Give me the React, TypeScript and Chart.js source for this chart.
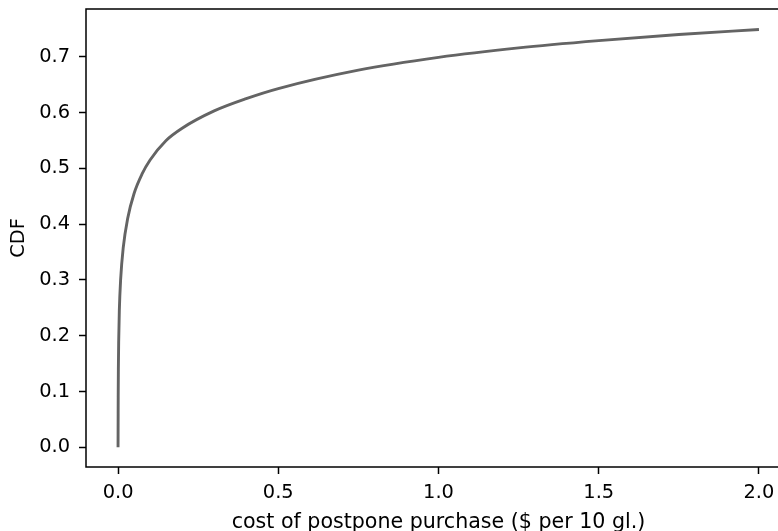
import React, { useEffect, useRef } from "react";
import { Chart, registerables } from "chart.js";

Chart.register(...registerables);

const costX = [0, 0.00025, 0.0005, 0.001, 0.002, 0.004, 0.008, 0.016, 0.03, 0.05, 0.075, 0.1, 0.15, 0.2, 0.3, 0.4, 0.5, 0.75, 1.0, 1.25, 1.5, 1.75, 2.0];
const cdfY = [0, 0.045, 0.09, 0.14, 0.19, 0.245, 0.3, 0.357, 0.41, 0.455, 0.49, 0.515, 0.55, 0.572, 0.603, 0.625, 0.643, 0.676, 0.699, 0.716, 0.729, 0.74, 0.749];
const xTicks = [0, 0.5, 1.0, 1.5, 2.0];
const yTicks = [0, 0.1, 0.2, 0.3, 0.4, 0.5, 0.6, 0.7];
const xTitle = "cost of postpone purchase ($ per 10 gl.)";
const yTitle = "CDF";

const CW = 810;
const CH = 531;
const FONT = "'DejaVu Sans', sans-serif";
const FS = 19.4;
const TFS = 20.6;

const framePlugin = {
  id: "frame",
  afterDraw(chart: any) {
    const { ctx, chartArea } = chart;
    ctx.save();
    ctx.strokeStyle = "#000";
    ctx.lineWidth = 1.5;
    ctx.strokeRect(chartArea.left, chartArea.top, chartArea.right - chartArea.left, chartArea.bottom - chartArea.top);
    ctx.restore();
  },
};

export default function App() {
  const ref = useRef<HTMLCanvasElement>(null);
  useEffect(() => {
    if (!ref.current) return;
    const chart = new Chart(ref.current, {
      type: "line",
      data: {
        datasets: [
          {
            data: costX.map((x, i) => ({ x, y: cdfY[i] })),
            borderColor: "#646464",
            borderWidth: 2.9,
            pointRadius: 0,
            cubicInterpolationMode: "monotone",
            fill: false,
          },
        ],
      },
      options: {
        responsive: false,
        animation: false,
        layout: { padding: { top: 9, right: CW - 791, left: 0, bottom: 0 } },
        plugins: { legend: { display: false }, tooltip: { enabled: false } },
        scales: {
          x: {
            type: "linear",
            min: -0.1,
            max: 2.1,
            afterBuildTicks: (s: any) => {
              s.ticks = xTicks.map((v) => ({ value: v }));
            },
            afterFit: (s: any) => {
              s.height = 64;
              s.paddingLeft = 0;
              s.paddingRight = 0;
            },
            border: { display: false },
            grid: { drawOnChartArea: false, drawTicks: true, tickLength: 7, tickColor: "#000", tickWidth: 1.5 },
            ticks: {
              color: "#000",
              font: { family: FONT, size: FS },
              padding: 7,
              maxRotation: 0,
              callback: (v: any) => Number(v).toFixed(1),
            },
            title: {
              display: true,
              text: xTitle,
              color: "#000",
              font: { family: FONT, size: TFS },
              padding: { top: 0, bottom: -4 },
            },
          },
          y: {
            type: "linear",
            min: -0.0353,
            max: 0.7857,
            afterBuildTicks: (s: any) => {
              s.ticks = yTicks.map((v) => ({ value: v }));
            },
            afterFit: (s: any) => {
              s.width = 86;
              s.paddingTop = 0;
              s.paddingBottom = 0;
            },
            border: { display: false },
            grid: { drawOnChartArea: false, drawTicks: true, tickLength: 7, tickColor: "#000", tickWidth: 1.5 },
            ticks: {
              color: "#000",
              font: { family: FONT, size: FS },
              padding: 9,
              callback: (v: any) => Number(v).toFixed(1),
            },
            title: {
              display: true,
              text: yTitle,
              color: "#000",
              font: { family: FONT, size: FS },
              padding: { top: 7, bottom: 0 },
            },
          },
        },
      },
      plugins: [framePlugin],
    });
    return () => chart.destroy();
  }, []);
  return (
    <div style={{ position: "fixed", left: 0, top: 0, width: 778, height: 531, overflow: "hidden", background: "#fff" }}>
      <canvas ref={ref} width={CW} height={CH} style={{ display: "block" }} />
    </div>
  );
}
